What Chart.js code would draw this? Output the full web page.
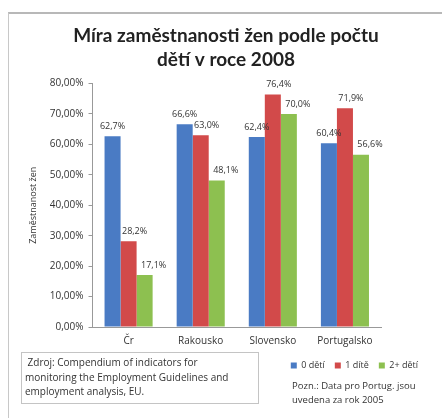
<!DOCTYPE html>
<html>
<head>
<meta charset="utf-8">
<script src="https://cdn.jsdelivr.net/npm/chart.js@4/dist/chart.umd.min.js"></script>
<style>
  html, body { margin: 0; padding: 0; background: #fff; }
  #wrap { position: relative; width: 442px; height: 418px; overflow: hidden; }
  #frame { position: absolute; left: 8px; top: 12px; width: 460px; height: 440px;
           border-left: 1px solid #c8c8c8; border-top: 2px solid #b8b8b8; }
  canvas { position: absolute; left: 0; top: 0; }
  #src { position: absolute; left: 21px; top: 352px; width: 230px; height: 46px;
         border: 1px solid #c4c4c4; padding: 2px 3px; white-space: nowrap;
         font: 10px "Open Sans", sans-serif; color: #333; line-height: 14.5px; }
  #note { position: absolute; left: 292px; top: 379px; width: 150px; white-space: nowrap;
          font: 9.5px "Open Sans", sans-serif; color: #333; line-height: 14px; }
</style>
</head>
<body>
<div id="wrap">
  <div id="frame"></div>
  <canvas id="c" width="442" height="418"></canvas>
  <div id="src">&nbsp;Zdroj: Compendium of indicators for<br>monitoring the Employment Guidelines and<br>employment analysis, EU.</div>
  <div id="note">Pozn.: Data pro Portug. jsou<br>uvedena za rok 2005</div>
</div>
<script>
const categories = ["Čr", "Rakousko", "Slovensko", "Portugalsko"];
const seriesNames = ["0 dětí", "1 dítě", "2+ dětí"];
const zeroChildren = [62.7, 66.6, 62.4, 60.4];
const oneChild = [28.2, 63.0, 76.4, 71.9];
const twoPlusChildren = [17.1, 48.1, 70.0, 56.6];
const yTicks = [0, 10, 20, 30, 40, 50, 60, 70, 80];
const chartTitle = ["Míra zaměstnanosti žen podle počtu", "dětí v roce 2008"];
const yTitle = "Zaměstnanost žen";

const colors = ["#4A7BC4", "#D24A4A", "#8DC050"];
const labelShift = [0, 6, 9];

const fmtPct = (v, d) => v.toFixed(d).replace('.', ',') + '%';

const valueLabels = {
  id: 'valueLabels',
  afterDatasetsDraw(chart) {
    const ctx = chart.ctx;
    ctx.save();
    ctx.font = '9px "Open Sans", sans-serif';
    ctx.fillStyle = '#333';
    ctx.textAlign = 'center';
    ctx.textBaseline = 'middle';
    chart.data.datasets.forEach((ds, di) => {
      const meta = chart.getDatasetMeta(di);
      meta.data.forEach((bar, i) => {
        ctx.fillText(fmtPct(ds.data[i], 1), bar.x + labelShift[di], bar.y - 10);
      });
    });
    ctx.restore();
  }
};

new Chart(document.getElementById('c'), {
  type: 'bar',
  data: {
    labels: categories,
    datasets: [
      { label: seriesNames[0], data: zeroChildren, backgroundColor: colors[0] },
      { label: seriesNames[1], data: oneChild, backgroundColor: colors[1] },
      { label: seriesNames[2], data: twoPlusChildren, backgroundColor: colors[2] }
    ]
  },
  options: {
    responsive: false,
    animation: false,
    layout: { padding: { left: 24, right: 14, top: 12, bottom: 38 } },
    datasets: { bar: { categoryPercentage: 3 / 4.5, barPercentage: 1 } },
    plugins: {
      title: {
        display: true,
        text: chartTitle,
        font: { family: 'Lato', size: 19, weight: 'bold', lineHeight: 1.25 },
        color: '#222',
        padding: { top: 12, bottom: 12 }
      },
      legend: {
        position: 'bottom',
        align: 'end',
        labels: {
          boxWidth: 6, boxHeight: 6, padding: 10,
          font: { family: 'Open Sans', size: 9 }, color: '#333'
        }
      },
      tooltip: { enabled: false }
    },
    scales: {
      x: {
        grid: { display: false },
        border: { display: true, color: '#999' },
        ticks: { font: { family: 'Open Sans', size: 10 }, color: '#333', padding: 0 },
        afterFit(scale) { scale.height += 4; }
      },
      y: {
        min: 0, max: 80,
        afterBuildTicks(scale) { scale.ticks = yTicks.map(v => ({ value: v })); },
        grid: { display: true, drawOnChartArea: false, drawTicks: true, tickLength: 4, color: '#999' },
        border: { display: true, color: '#999' },
        ticks: {
          font: { family: 'Open Sans', size: 10 }, color: '#333', padding: 5,
          callback: v => fmtPct(v, 2)
        },
        title: {
          display: true, text: yTitle,
          font: { family: 'Open Sans', size: 9 }, color: '#333', padding: { bottom: 6 }
        }
      },
      yRight: {
        position: 'right',
        display: true,
        grid: { display: false },
        border: { display: false },
        ticks: { display: false },
        afterFit(scale) { scale.width = 47; }
      }
    }
  },
  plugins: [valueLabels]
});
</script>
</body>
</html>
